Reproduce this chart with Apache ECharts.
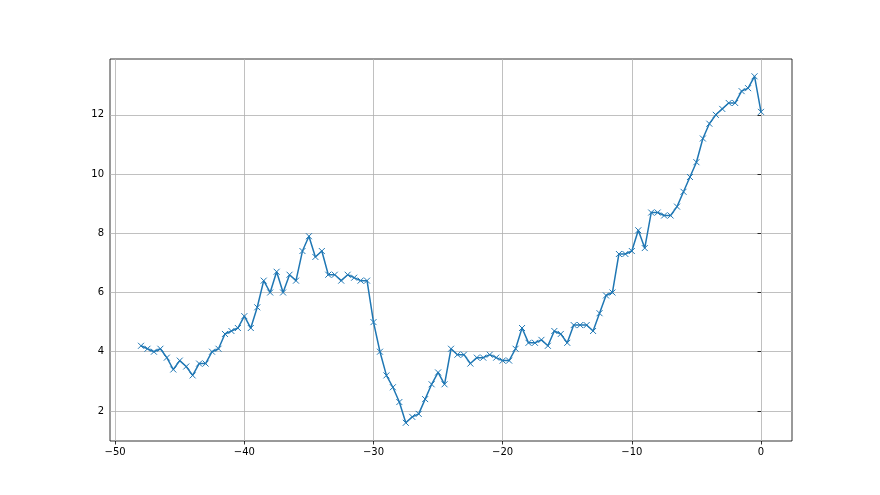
<!DOCTYPE html>
<html><head><meta charset="utf-8">
<script src="https://cdn.jsdelivr.net/npm/echarts@6/dist/echarts.min.js"></script>
<style>html,body{margin:0;padding:0;background:#fff}#c{width:880px;height:495px}</style>
</head><body><div id="c"></div>
<script>
const xStart = -48, xStep = 0.5;
const values = [4.2,4.1,4.0,4.1,3.8,3.4,3.7,3.5,3.2,3.6,3.6,4.0,4.1,4.6,4.7,4.8,5.2,4.8,5.5,6.4,6.0,6.7,6.0,6.6,6.4,7.4,7.9,7.2,7.4,6.6,6.6,6.4,6.6,6.5,6.4,6.4,5.0,4.0,3.2,2.8,2.3,1.6,1.8,1.9,2.4,2.9,3.3,2.9,4.1,3.9,3.9,3.6,3.8,3.8,3.9,3.8,3.7,3.7,4.1,4.8,4.3,4.3,4.4,4.2,4.7,4.6,4.3,4.9,4.9,4.9,4.7,5.3,5.9,6.0,7.3,7.3,7.4,8.1,7.5,8.7,8.7,8.6,8.6,8.9,9.4,9.9,10.4,11.2,11.7,12.0,12.2,12.4,12.4,12.8,12.9,13.3,12.1];
const xTicks = [-50,-40,-30,-20,-10,0];
const yTicks = [2,4,6,8,10,12];
const data = values.map((v,i)=>[xStart + i*xStep, v]);
const chart = echarts.init(document.getElementById('c'));
const font = {fontFamily:'DejaVu Sans', fontSize:10, color:'#000'};
chart.setOption({
  animation:false,
  grid:{left:110,right:88,top:59,bottom:54,show:true,borderColor:'#000',borderWidth:0.8,containLabel:false},
  xAxis:{type:'value',min:-50.4,max:2.4,
    axisLine:{show:false},
    axisTick:{show:true,inside:false,length:3.5,lineStyle:{color:'#000',width:0.8},customValues:xTicks},
    axisLabel:Object.assign({customValues:xTicks,margin:6,formatter:v=>String(v).replace('-','\u2212')},font),
    splitLine:{show:true,lineStyle:{color:'#b0b0b0',width:0.8}}},
  yAxis:{type:'value',min:0.985,max:13.885,
    axisLine:{show:false},
    axisTick:{show:true,inside:false,length:3.5,lineStyle:{color:'#000',width:0.8},customValues:yTicks},
    axisLabel:Object.assign({customValues:yTicks,margin:6},font),
    splitLine:{show:true,lineStyle:{color:'#b0b0b0',width:0.8}}},
  series:[{type:'line',data:data,
    lineStyle:{color:'#1f77b4',width:1.5},
    symbol:'path://M0,0L10,10M10,0L0,10',symbolSize:6,showAllSymbol:true,
    itemStyle:{color:'none',borderColor:'#1f77b4',borderWidth:1}}]
});
</script></body></html>
